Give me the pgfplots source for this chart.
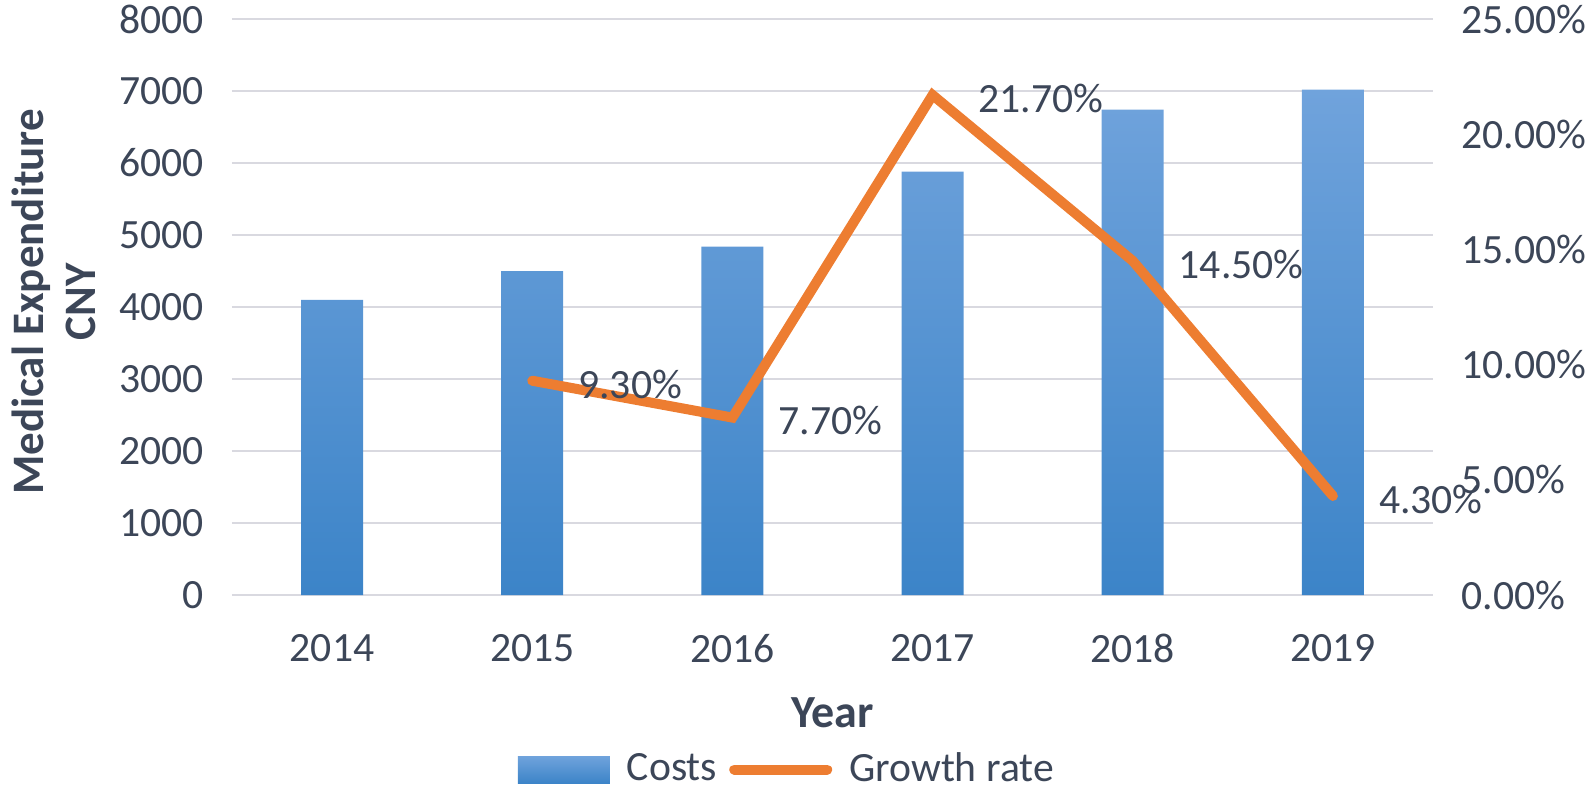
\documentclass[border=0pt]{standalone}
\usepackage{pgfplots}
\pgfplotsset{compat=1.18}
\usepackage{fontspec}
\setmainfont{Carlito}
\definecolor{txt}{RGB}{60,70,88}
\definecolor{gridc}{RGB}{217,217,224}
\definecolor{bartop}{RGB}{112,163,220}
\definecolor{barbot}{RGB}{60,132,200}
\definecolor{lineor}{RGB}{237,125,49}
\begin{document}
\begin{tikzpicture}
\pgfplotsset{
  common/.style={
    width=360.3pt, height=172.8pt, scale only axis,
    xmin=-0.5, xmax=5.5,
    axis line style={draw=none},
    major tick length=0pt,
    /pgf/number format/assume math mode=true,
    tick label style={font=\fontsize{12.5}{14}\selectfont, text=txt},
  }
}
\begin{axis}[common,
  ymin=0, ymax=8000,
  ytick={0,1000,...,8000},
  ymajorgrids, grid style={gridc, line width=0.8pt},
  xtick={0,1,2,3,4,5},
  xticklabels={2014,2015,2016,2017,2018,2019},
  xticklabel style={yshift=-8.3pt},
  yticklabel style={xshift=-5pt},
  scaled y ticks=false,
  yticklabel={\pgfmathprintnumber[fixed,1000 sep={}]{\tick}},
  ybar, bar width=18.6pt, bar shift=0pt,
  xlabel={Year},
  xlabel style={at={(axis description cs:0.5,-0.2049)}, anchor=center, font=\bfseries\fontsize{13.8}{15}\selectfont, text=txt},
  ylabel={Medical Expenditure\\CNY},
  ylabel style={at={(axis description cs:-0.148,0.5087)}, anchor=center, align=center, font=\bfseries\fontsize{13.5}{15.6}\selectfont, text=txt},
]
\addplot[draw=none, top color=bartop, bottom color=barbot] coordinates {
 (0,4100) (1,4500) (2,4840) (3,5880) (4,6740) (5,7020)};
\end{axis}
\begin{axis}[common,
  ymin=0, ymax=25,
  axis x line=none,
  axis y line*=right,
  ytick={0,5,...,25},
  yticklabel={\pgfmathprintnumber[fixed,fixed zerofill,precision=2]{\tick}\%},
  yticklabel style={xshift=5pt, anchor=west},
  legend style={at={(axis description cs:0.2381,-0.303)}, anchor=west, draw=none, fill=none,
    inner sep=0pt, outer sep=0pt, font=\fontsize{12.5}{14}\selectfont, text=txt,
    nodes={inner sep=0pt, outer sep=0pt},
    /tikz/every odd column/.append style={column sep=5.1pt},
    /tikz/every even column/.append style={column sep=3.6pt}},
  legend columns=2,
]
\addlegendimage{draw=none, legend image code/.code={\shade[draw=none, top color=bartop, bottom color=barbot] (0pt,-4.05pt) rectangle (27.6pt,4.05pt);}}
\addlegendentry{Costs}
\addplot[lineor, line width=3pt, line cap=round, line join=miter,
  nodes near coords={\pgfmathprintnumber[fixed,fixed zerofill,precision=2]{\pgfplotspointmeta}\%},
  every node near coord/.append style={anchor=west, xshift=9pt, yshift=-1pt, text=txt, font=\fontsize{12.5}{14}\selectfont},
  legend image code/.code={\draw[lineor, line width=3pt, line cap=round] (1.5pt,0pt) -- (29.4pt,0pt);}]
 coordinates {(1,9.3) (2,7.7) (3,21.7) (4,14.5) (5,4.3)};
\addlegendentry{Growth rate}
\end{axis}
\pgfresetboundingbox
\useasboundingbox (-69.6pt,-57.3pt) rectangle (408pt,178.5pt);
\end{tikzpicture}
\end{document}
